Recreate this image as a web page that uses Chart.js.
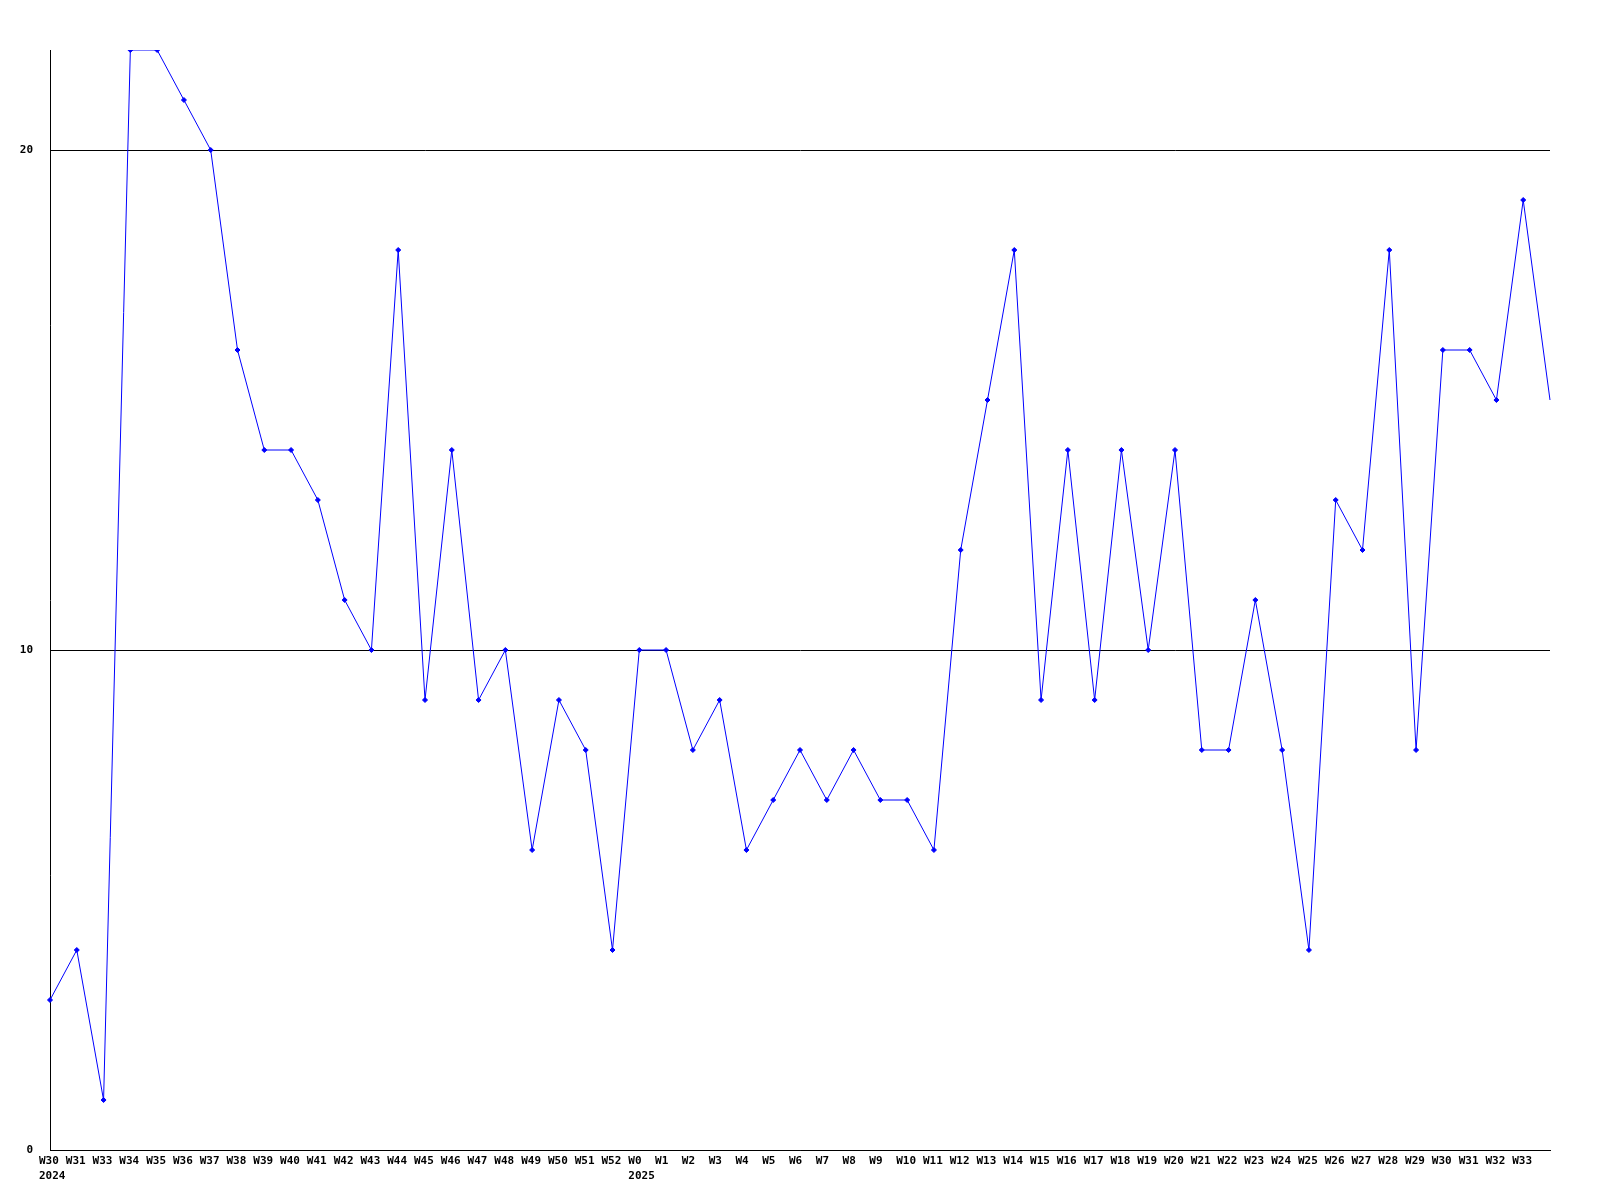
<!DOCTYPE html>
<html>
<head>
<meta charset="utf-8">
<script src="https://cdn.jsdelivr.net/npm/chart.js@4/dist/chart.umd.min.js"></script>
<style>
html,body{margin:0;padding:0;background:#fff;}
#wrap{width:1600px;height:1200px;}
</style>
</head>
<body>
<div id="wrap"><canvas id="c" width="1600" height="1200"></canvas></div>
<script>
const weeks = ['W30','W31','W33','W34','W35','W36','W37','W38','W39','W40','W41','W42','W43','W44','W45','W46','W47','W48','W49','W50','W51','W52',
  'W0','W1','W2','W3','W4','W5','W6','W7','W8','W9','W10','W11','W12','W13','W14','W15','W16','W17','W18','W19','W20','W21','W22','W23','W24','W25','W26','W27','W28','W29','W30','W31','W32','W33','W34'];
const yearMarks = {0:'2024', 22:'2025'};
const values = [3,4,1,22,22,21,20,16,14,14,13,11,10,18,9,14,9,10,6,9,8,4,
  10,10,8,9,6,7,8,7,8,7,7,6,12,15,18,9,14,9,14,10,14,8,8,11,8,4,13,12,18,8,16,16,15,19,15];
const yTicks = [0,10,20];
const yMax = 22;

const labels = weeks.map((w,i) => yearMarks[i] ? [w, yearMarks[i]] : w);
const font = {family:'"DejaVu Sans Mono", monospace', size:11, weight:'bold', lineHeight:1.32};

new Chart(document.getElementById('c'), {
  type:'line',
  data:{
    labels: labels,
    datasets:[{
      data: values,
      borderColor:'#0000ff',
      backgroundColor:'#0000ff',
      borderWidth:1,
      pointStyle:'rectRot',
      pointRadius: ctx => ctx.dataIndex === values.length-1 ? 0 : 2.5,
      pointBorderWidth:1,
      tension:0,
      fill:false
    }]
  },
  options:{
    responsive:false,
    animation:false,
    devicePixelRatio:1,
    layout:{padding:{left:0,right:50,top:50,bottom:0}},
    plugins:{legend:{display:false},tooltip:{enabled:false}},
    scales:{
      x:{
        offset:false,
        grid:{display:false,drawTicks:false},
        border:{display:true,color:'#000',width:1},
        ticks:{
          autoSkip:false,maxRotation:0,minRotation:0,
          align:'start',labelOffset:-11,padding:4,
          color:'#000',font:font,
          callback:function(v,i){ return i === values.length-1 ? '' : this.getLabelForValue(v); }
        },
        afterFit: s => { s.height = 50; }
      },
      y:{
        min:0,max:yMax,
        afterBuildTicks: s => { s.ticks = yTicks.map(v => ({value:v})); },
        grid:{color:'#000',lineWidth:1,drawTicks:false},
        border:{display:true,color:'#000',width:1},
        ticks:{color:'#000',font:font,padding:17},
        afterFit: s => { s.width = 50; }
      }
    }
  }
});
</script>
</body>
</html>
